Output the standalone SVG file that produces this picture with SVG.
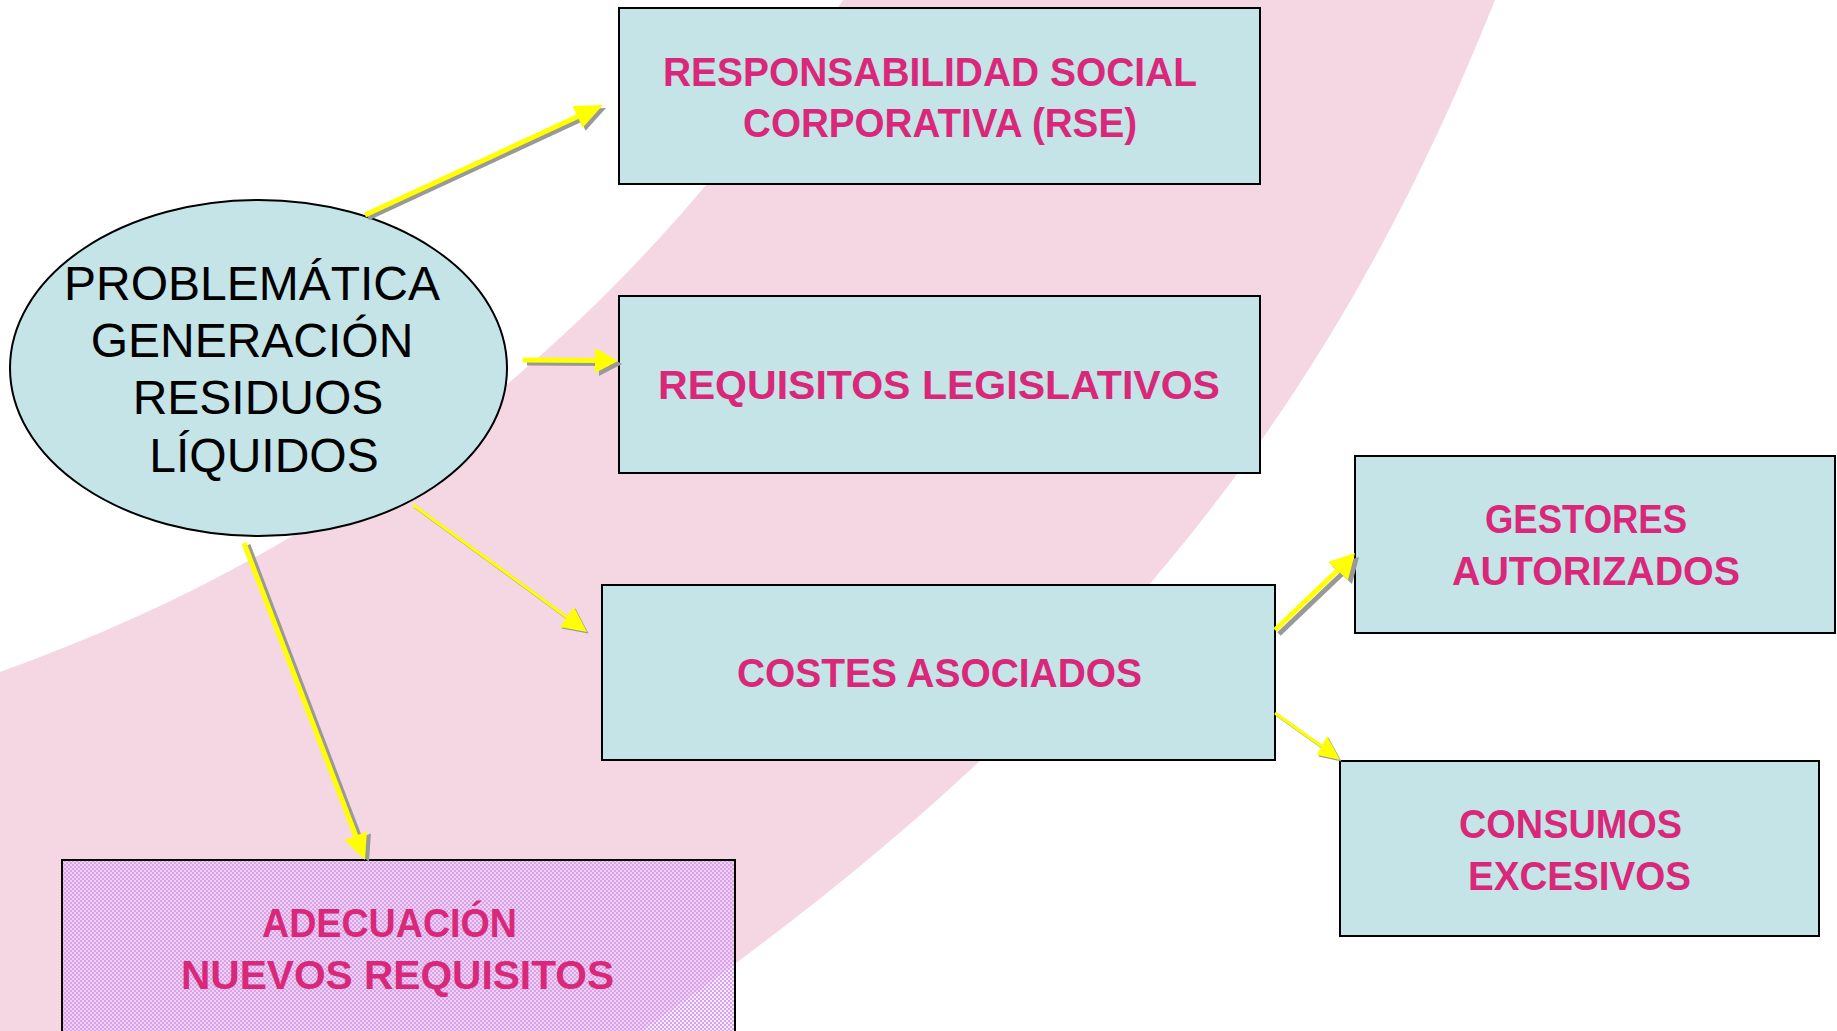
<svg xmlns="http://www.w3.org/2000/svg" width="1837" height="1031" viewBox="0 0 1837 1031">
<defs>
<style>
.box{fill:#C5E4E7;stroke:#000;stroke-width:2}
.lbl{font-family:"Liberation Sans",Arial,sans-serif;font-weight:bold;font-size:40px;fill:#D9287A}
.ell{font-family:"Liberation Sans",Arial,sans-serif;font-size:48px;fill:#000;text-anchor:middle}
.ln{stroke:#FFFF00;stroke-width:5;fill:none}
.ln3{stroke:#FFFF00;stroke-width:3;fill:none}
.sh{stroke:#999999;stroke-width:5;fill:none}
.sh3{stroke:#999999;stroke-width:3;fill:none}
.hd{fill:#FFFF00}
.hs{fill:#999999}
</style>
<pattern id="chk" width="4" height="4" patternUnits="userSpaceOnUse">
<rect x="0" y="0" width="2" height="2" fill="#D6A3F0"/>
<rect x="2" y="2" width="2" height="2" fill="#D6A3F0"/>
</pattern>
</defs>
<rect x="0" y="0" width="1837" height="1031" fill="#FFFFFF"/>
<path d="M843,0 L1495,0 C1355,350 1148,681 641,1031 L0,1031 L0,672 C392,532 654,290 843,0 Z" fill="#F4D7E3"/>

<g id="node-problematica">
<ellipse cx="258.5" cy="368" rx="248.5" ry="168" fill="#C5E4E7" stroke="#000" stroke-width="2"/>
<text class="ell" x="252" y="300">PROBLEMÁTICA</text>
<text class="ell" x="252" y="357">GENERACIÓN</text>
<text class="ell" x="258" y="414">RESIDUOS</text>
<text class="ell" x="264" y="472">LÍQUIDOS</text>
</g>

<g id="node-rse">
<rect class="box" x="619" y="8" width="641" height="176"/>
<text class="lbl" x="663" y="86" textLength="534" lengthAdjust="spacingAndGlyphs">RESPONSABILIDAD SOCIAL</text>
<text class="lbl" x="743" y="137" textLength="394" lengthAdjust="spacingAndGlyphs">CORPORATIVA (RSE)</text>
</g>

<g id="node-requisitos">
<rect class="box" x="619" y="296" width="641" height="177"/>
<text class="lbl" x="658" y="399" textLength="562" lengthAdjust="spacingAndGlyphs">REQUISITOS LEGISLATIVOS</text>
</g>

<g id="node-costes">
<rect class="box" x="602" y="585" width="673" height="175"/>
<text class="lbl" x="737" y="687" textLength="405" lengthAdjust="spacingAndGlyphs">COSTES ASOCIADOS</text>
</g>

<g id="node-gestores">
<rect class="box" x="1355" y="456" width="480" height="177"/>
<text class="lbl" x="1485" y="533" textLength="202" lengthAdjust="spacingAndGlyphs">GESTORES</text>
<text class="lbl" x="1452" y="585" textLength="288" lengthAdjust="spacingAndGlyphs">AUTORIZADOS</text>
</g>

<g id="node-consumos">
<rect class="box" x="1340" y="761" width="479" height="175"/>
<text class="lbl" x="1459" y="838" textLength="223" lengthAdjust="spacingAndGlyphs">CONSUMOS</text>
<text class="lbl" x="1468" y="890" textLength="223" lengthAdjust="spacingAndGlyphs">EXCESIVOS</text>
</g>

<g id="node-adecuacion">
<rect x="62" y="860" width="673" height="190" fill="#EAC6F6" fill-opacity="0.35"/>
<rect x="62" y="860" width="673" height="190" fill="url(#chk)" stroke="#000" stroke-width="2"/>
<text class="lbl" x="262" y="937" textLength="255" lengthAdjust="spacingAndGlyphs">ADECUACIÓN</text>
<text class="lbl" x="181" y="989" textLength="433" lengthAdjust="spacingAndGlyphs">NUEVOS REQUISITOS</text>
</g>

<g id="connectors">
<!-- to RSE -->
<g transform="translate(3,3)">
<line class="sh" x1="365" y1="215" x2="580" y2="115.5"/>
<polygon class="hs" points="603,105 582.6,127.7 572.6,105.9"/>
</g>
<line class="ln" x1="365" y1="215" x2="580" y2="115.5"/>
<polygon class="hd" points="603,105 582.6,127.7 572.6,105.9"/>

<!-- to Requisitos -->
<g transform="translate(4,3)">
<line class="sh" x1="523" y1="360" x2="597" y2="360.5"/>
<polygon class="hs" points="618,361 595,348 595,373"/>
</g>
<line class="ln" x1="523" y1="360" x2="597" y2="360.5"/>
<polygon class="hd" points="618,361 595,348 595,373"/>

<!-- to Costes -->
<g transform="translate(1.5,1.5)">
<line class="sh3" x1="413" y1="505" x2="568" y2="618"/>
<polygon class="hs" points="587,632 574,607 560,627"/>
</g>
<line class="ln3" x1="413" y1="505" x2="568" y2="618"/>
<polygon class="hd" points="587,632 574,607 560,627"/>

<!-- to Adecuacion -->
<g transform="translate(4,2)">
<line class="sh" x1="244" y1="543" x2="357" y2="839"/>
<polygon class="hs" points="365,860 366.9,831.4 344.5,840"/>
</g>
<line class="ln" x1="244" y1="543" x2="357" y2="839"/>
<polygon class="hd" points="365,860 366.9,831.4 344.5,840"/>

<!-- to Gestores -->
<g transform="translate(4,4)">
<line class="sh" x1="1275" y1="630" x2="1340" y2="568"/>
<polygon class="hs" points="1355,553 1328,562 1348,580"/>
</g>
<line class="ln" x1="1275" y1="630" x2="1340" y2="568"/>
<polygon class="hd" points="1355,553 1328,562 1348,580"/>

<!-- to Consumos -->
<g transform="translate(1.5,1.5)">
<line class="sh3" x1="1275" y1="713" x2="1324" y2="748"/>
<polygon class="hs" points="1340,760 1327,736 1317,755"/>
</g>
<line class="ln3" x1="1275" y1="713" x2="1324" y2="748"/>
<polygon class="hd" points="1340,760 1327,736 1317,755"/>
</g>
</svg>
